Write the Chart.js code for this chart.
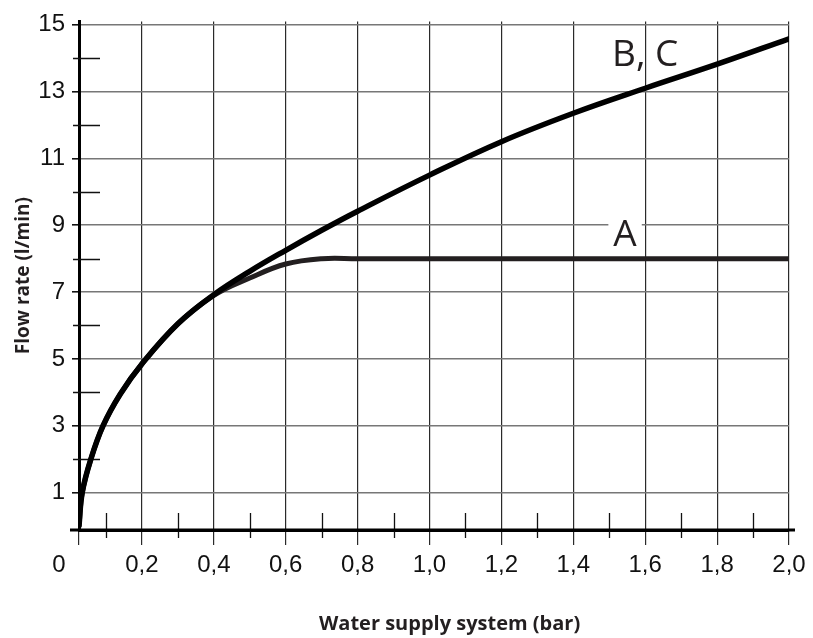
<!DOCTYPE html>
<html>
<head>
<meta charset="utf-8">
<script src="https://cdn.jsdelivr.net/npm/chart.js@4.4.0/dist/chart.umd.min.js"></script>
<style>
  html, body { margin: 0; padding: 0; background: #fff; }
  #wrap { width: 813px; height: 638px; }
</style>
</head>
<body>
<div id="wrap"><canvas id="chart" width="813" height="638"></canvas></div>
<script>
// supply pressure (bar) against flow rate (l/min) for each valve version
var pressure = [0.025, 0.034, 0.058, 0.092, 0.14, 0.2, 0.3, 0.4, 0.5, 0.6, 0.7, 0.8, 1.0, 1.2, 1.4, 1.6, 1.8, 2.0];
var flowBC   = [0, 1, 2, 3, 3.95, 4.85, 6.05, 6.92, 7.62, 8.25, 8.85, 9.42, 10.5, 11.5, 12.35, 13.1, 13.82, 14.58];
var flowA    = [0, 1, 2, 3, 3.95, 4.85, 6.05, 6.9, 7.42, 7.84, 8.0, 8.0, 8.0, 8.0, 8.0, 8.0, 8.0, 8.0];

var xAxisStart = 0.025;
var xTickValues = [xAxisStart, 0.2, 0.4, 0.6, 0.8, 1.0, 1.2, 1.4, 1.6, 1.8, 2.0];
var xTickLabels = ['0      ', '0,2', '0,4', '0,6', '0,8', '1,0', '1,2', '1,4', '1,6', '1,8', '2,0'];
var xMinorTicks = [0.1, 0.3, 0.5, 0.7, 0.9, 1.1, 1.3, 1.5, 1.7, 1.9];
var yTickValues = [1, 3, 5, 7, 9, 11, 13, 15];
var yMinorTicks = [2, 4, 6, 8, 10, 12, 14];

var curveLabels = [
    { text: 'B, C', x: 1.6, y: 13.76, box: false },
    { text: 'A', x: 1.544, y: 8.39, box: true }
];

function points(ys) {
    return pressure.map(function (p, i) { return { x: p, y: ys[i] }; });
}

// short in-between ticks, axis overhang and the curve names
var extras = {
    id: 'extras',
    beforeDatasetsDraw: function (chart) {
        var ctx = chart.ctx;
        var x = chart.scales.x;
        var y = chart.scales.y;
        ctx.save();
        ctx.strokeStyle = '#111';
        ctx.lineWidth = 1.3;
        ctx.beginPath();
        yMinorTicks.forEach(function (v) {
            var py = Math.round(y.getPixelForValue(v)) + 0.5;
            ctx.moveTo(x.left - 6, py);
            ctx.lineTo(x.left + 21, py);
        });
        xMinorTicks.forEach(function (v) {
            var px = Math.round(x.getPixelForValue(v)) + 0.5;
            ctx.moveTo(px, y.bottom - 17);
            ctx.lineTo(px, y.bottom + 8);
        });
        ctx.stroke();

        ctx.strokeStyle = '#000';
        ctx.lineWidth = 3;
        ctx.beginPath();
        ctx.moveTo(x.left - 9, y.bottom);
        ctx.lineTo(x.right + 6, y.bottom);
        ctx.stroke();

        ctx.font = '37px "Open Sans"';
        ctx.textAlign = 'center';
        ctx.textBaseline = 'alphabetic';
        curveLabels.forEach(function (l) {
            var px = x.getPixelForValue(l.x);
            var py = y.getPixelForValue(l.y);
            if (l.box) {
                var w = ctx.measureText(l.text).width;
                ctx.fillStyle = '#fff';
                ctx.fillRect(px - w / 2 - 5, py - 30, w + 10, 32);
            }
            ctx.fillStyle = '#231f20';
            ctx.fillText(l.text, px, py);
        });
        ctx.restore();
    }
};

var ctx = document.getElementById('chart');

var chart = new Chart(ctx, {
    type: 'line',
    data: {
        datasets: [
            {
                label: 'B, C',
                data: points(flowBC),
                borderColor: '#000',
                borderWidth: 5.5,
                borderCapStyle: 'round',
                tension: 0.4,
                pointRadius: 0,
                fill: false
            },
            {
                label: 'A',
                data: points(flowA),
                borderColor: '#231f20',
                borderWidth: 5,
                borderCapStyle: 'round',
                tension: 0.4,
                pointRadius: 0,
                fill: false
            }
        ]
    },
    options: {
        responsive: false,
        animation: false,
        layout: { padding: { top: 14, right: 24, bottom: 0, left: 0 } },
        plugins: {
            legend: { display: false },
            tooltip: { enabled: false }
        },
        scales: {
            x: {
                type: 'linear',
                min: xAxisStart,
                max: 2.0,
                afterBuildTicks: function (scale) {
                    scale.ticks = xTickValues.map(function (v) { return { value: v }; });
                },
                afterFit: function (scale) { scale.height = 108; },
                grid: { color: '#2a2a2a', lineWidth: 1.2, tickLength: 15, tickColor: '#2a2a2a' },
                border: { color: '#000', width: 3 },
                ticks: {
                    autoSkip: false,
                    maxRotation: 0,
                    padding: 6,
                    color: '#111',
                    font: { family: '"Liberation Sans", Arial', size: 24 },
                    callback: function (value, index) { return xTickLabels[index]; }
                },
                title: {
                    display: true,
                    text: '      Water supply system (bar)',
                    color: '#231f20',
                    font: { family: '"Open Sans"', size: 20, weight: 'bold' },
                    padding: { top: 0, bottom: 2 }
                }
            },
            y: {
                type: 'linear',
                min: -0.12,
                max: 15.1,
                afterBuildTicks: function (scale) {
                    scale.ticks = yTickValues.map(function (v) { return { value: v }; });
                },
                afterFit: function (scale) { scale.width = 79; },
                grid: { color: '#777', lineWidth: 1.6, tickLength: 7, tickColor: '#111' },
                border: { color: '#000', width: 3 },
                ticks: {
                    autoSkip: false,
                    padding: 7,
                    color: '#111',
                    font: { family: '"Liberation Sans", Arial', size: 24 },
                    callback: function (value) { return String(value); }
                },
                title: {
                    display: true,
                    text: 'Flow rate (l/min)',
                    color: '#231f20',
                    font: { family: '"Open Sans"', size: 19, weight: 'bold' },
                    padding: { top: 12, bottom: 0 }
                }
            }
        }
    },
    plugins: [extras]
});
</script>
</body>
</html>
